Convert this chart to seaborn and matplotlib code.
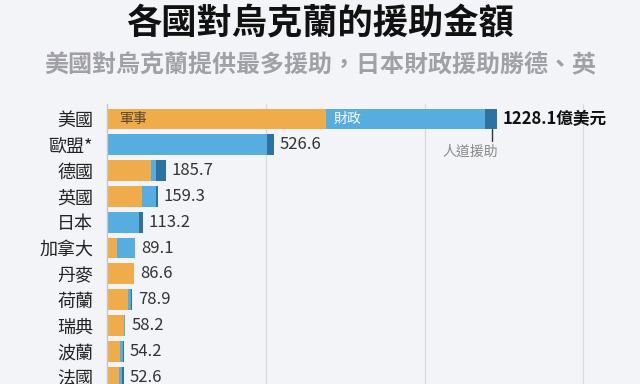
import matplotlib
matplotlib.use("Agg")
import matplotlib.pyplot as plt
import seaborn as sns
import pandas as pd
import numpy as np

countries = ["美國", "歐盟*", "德國", "英國", "日本", "加拿大", "丹麥", "荷蘭", "瑞典", "波蘭", "法國"]
military = [689, 0, 138, 111, 0, 30, 84, 67, 54.5, 41, 39]
financial = [502, 503, 16, 42, 102, 57, 0.6, 8, 1, 8, 7]
humanitarian = [37.1, 23.6, 31.7, 6.3, 11.2, 2.1, 2.0, 3.9, 2.7, 5.2, 6.6]
totals = [1228.1, 526.6, 185.7, 159.3, 113.2, 89.1, 86.6, 78.9, 58.2, 54.2, 52.6]

BG = "#f3f4f8"
C_MIL = "#f0ac4b"
C_FIN = "#57addf"
C_HUM = "#2e72a3"

sns.set_theme(style="white")
plt.rcParams["font.family"] = ["Noto Sans CJK TC", "DejaVu Sans"]

df = pd.DataFrame({
    "country": countries,
    "mil": military,
    "milfin": np.array(military) + np.array(financial),
    "total": totals,
})

fig = plt.figure(figsize=(6.4, 3.84), dpi=100, facecolor=BG)
ax = fig.add_axes([107 / 640, 0.0, (615 - 107) / 640, (384 - 104) / 384])
ax.set_facecolor(BG)

sns.barplot(data=df, y="country", x="total", color=C_HUM, width=0.8, ax=ax,
            saturation=1, linewidth=0)
sns.barplot(data=df, y="country", x="milfin", color=C_FIN, width=0.8, ax=ax,
            saturation=1, linewidth=0)
sns.barplot(data=df, y="country", x="mil", color=C_MIL, width=0.8, ax=ax,
            saturation=1, linewidth=0)

ax.set_xlim(0, 1600)
ax.set_ylim(10.27, -0.58)
ax.set_xticks([500, 1000, 1500])
ax.set_xticklabels([])
ax.grid(axis="x", color="#d9dadf", linewidth=0.9)
ax.set_axisbelow(True)
for s in ["top", "right", "bottom"]:
    ax.spines[s].set_visible(False)
ax.spines["left"].set_color("#c4c6cc")
ax.spines["left"].set_linewidth(1.0)
ax.tick_params(axis="y", length=0, pad=10, labelsize=13, labelcolor="#222222")
ax.tick_params(axis="x", length=0)
ax.set_xlabel("")
ax.set_ylabel("")

for i, t in enumerate(totals):
    if i == 0:
        ax.text(t + 18, i, f"{t:.1f}億美元", va="center", ha="left",
                fontsize=12, fontweight="bold", color="#111111")
    else:
        ax.text(t + 18, i, f"{t:.1f}", va="center", ha="left",
                fontsize=12, color="#333333")

ax.text(38, 0, "軍事", va="center", ha="left", fontsize=10, color="#5a4630")
ax.text(712, 0, "財政", va="center", ha="left", fontsize=10, color="white")
ax.plot([1212, 1212], [0.4, 0.86], color="#333333", linewidth=1)
ax.text(1143, 1.28, "人道援助", va="center", ha="center", fontsize=10, color="#8a8a8a")

fig.text(0.5, 0.940, "各國對烏克蘭的援助金額", ha="center", va="center",
         fontsize=25.4, fontweight="bold", color="#111111")
fig.text(0.5, 0.831, "美國對烏克蘭提供最多援助，日本財政援助勝德、英", ha="center", va="center",
         fontsize=17.3, fontweight="bold", color="#a0a0a6")

fig.savefig("out.png", dpi=100, facecolor=BG)
